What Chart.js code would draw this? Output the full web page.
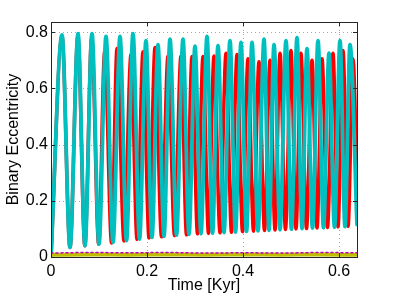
<!DOCTYPE html>
<html>
<head>
<meta charset="utf-8">
<script src="https://cdn.jsdelivr.net/npm/chart.js@4.4.1/dist/chart.umd.min.js"></script>
<style>
  html, body { margin: 0; padding: 0; background: #fff; }
  #wrap { width: 395px; height: 297px; }
</style>
</head>
<body>
<div id="wrap"><canvas id="graphe"></canvas></div>
<script>
// axes
var xTicks = [0, 0.2, 0.4, 0.6];
var yTicks = [0, 0.2, 0.4, 0.6, 0.8];
var xMax = 0.6375;
var yMax = 0.836;

// cyan binary (peaks and troughs)
var cyanPeakT = [0.0229,0.0563,0.0854,0.1146,0.1438,0.1708,0.1979,0.2229,0.2479,0.2750,0.3000,0.3250,0.3479,0.3729,0.3958,0.4188,0.4438,0.4646,0.4896,0.5125,0.5333,0.5563,0.5792,0.6021,0.6229];
var cyanPeakE = [0.790,0.795,0.795,0.785,0.785,0.795,0.770,0.755,0.775,0.775,0.750,0.785,0.752,0.770,0.763,0.763,0.775,0.755,0.770,0.780,0.741,0.770,0.725,0.770,0.755];
var cyanTroughT = [0.0396,0.0708,0.1000,0.1292,0.1573,0.1844,0.2104,0.2354,0.2615,0.2875,0.3125,0.3365,0.3604,0.3844,0.4073,0.4313,0.4542,0.4771,0.5010,0.5229,0.5448,0.5677,0.5906,0.6125];
var cyanTroughE = [0.034,0.040,0.046,0.052,0.058,0.064,0.070,0.074,0.078,0.081,0.083,0.085,0.087,0.089,0.091,0.093,0.095,0.097,0.099,0.101,0.103,0.104,0.106,0.108];
var cyanEnd = [0.6375, 0.115];

// red binary (first cycles hidden under the cyan one)
var redPeakT = [0.0229,0.0560,0.0848,0.1118,0.1375,0.1667,0.1917,0.2167,0.2438,0.2708,0.2938,0.3167,0.3396,0.3646,0.3875,0.4104,0.4333,0.4563,0.4771,0.5000,0.5208,0.5438,0.5646,0.5875,0.6083,0.6292];
var redPeakE = [0.785,0.785,0.780,0.730,0.742,0.720,0.730,0.745,0.715,0.715,0.713,0.713,0.715,0.725,0.720,0.705,0.695,0.700,0.725,0.735,0.725,0.700,0.705,0.725,0.735,0.705];
var redTroughT = [0.0396,0.0705,0.0993,0.1262,0.1521,0.1792,0.2042,0.2302,0.2573,0.2823,0.3052,0.3281,0.3521,0.3760,0.3990,0.4219,0.4448,0.4667,0.4885,0.5104,0.5323,0.5542,0.5760,0.5979,0.6188];
var redTroughE = [0.034,0.040,0.046,0.050,0.057,0.063,0.068,0.072,0.076,0.079,0.082,0.084,0.086,0.088,0.090,0.092,0.094,0.096,0.098,0.100,0.101,0.103,0.105,0.107,0.109];
var redEnd = [0.6375, 0.27];

// the small ones near zero
var bottomT = [0, 0.08, 0.16, 0.24, 0.32, 0.40, 0.48, 0.56, 0.6375];
var yellowE = [0.008, 0.009, 0.008, 0.009, 0.008, 0.009, 0.008, 0.009, 0.008];
var magentaE = [0.014, 0.016, 0.015, 0.016, 0.014, 0.015, 0.014, 0.016, 0.015];
var greenE = [0.011, 0.012, 0.011, 0.012, 0.011, 0.012, 0.011, 0.012, 0.011];

function construirePoints(peakT, peakE, troughT, troughE, fin){
    var pts = [{x: 0, y: 0}];
    for(let i = 0; i < peakT.length; i++){
        pts.push({x: peakT[i], y: peakE[i]});
        if (i < troughT.length){
            pts.push({x: troughT[i], y: troughE[i]});
        }
    }
    pts.push({x: fin[0], y: fin[1]});
    return pts;
}

function points(t, e){
    var pts = [];
    for(let i = 0; i < t.length; i++){
        pts.push({x: t[i], y: e[i]});
    }
    return pts;
}

// grid, box and inward ticks like matlab
var cadre = {
    id: 'cadre',
    beforeDatasetsDraw: function(chart){
        var ctx = chart.ctx, a = chart.chartArea;
        var sx = chart.scales.x, sy = chart.scales.y;
        ctx.save();
        ctx.strokeStyle = '#a8a8a8';
        ctx.lineWidth = 1;
        ctx.setLineDash([1, 3]);
        xTicks.forEach(function(v){
            if (v == 0) return;
            var px = Math.round(sx.getPixelForValue(v)) + 0.5;
            ctx.beginPath(); ctx.moveTo(px, a.top); ctx.lineTo(px, a.bottom); ctx.stroke();
        });
        yTicks.forEach(function(v){
            if (v == 0) return;
            var py = Math.round(sy.getPixelForValue(v)) + 0.5;
            ctx.beginPath(); ctx.moveTo(a.left, py); ctx.lineTo(a.right, py); ctx.stroke();
        });
        ctx.restore();
    },
    afterDatasetsDraw: function(chart){
        var ctx = chart.ctx, a = chart.chartArea;
        var sx = chart.scales.x, sy = chart.scales.y;
        ctx.save();
        ctx.strokeStyle = '#262626';
        ctx.lineWidth = 1;
        ctx.setLineDash([]);
        ctx.strokeRect(Math.round(a.left) + 0.5, Math.round(a.top) + 0.5, Math.round(a.right - a.left), Math.round(a.bottom - a.top));
        var tl = 4;
        xTicks.forEach(function(v){
            var px = Math.round(sx.getPixelForValue(v)) + 0.5;
            ctx.beginPath(); ctx.moveTo(px, a.bottom); ctx.lineTo(px, a.bottom - tl); ctx.stroke();
            ctx.beginPath(); ctx.moveTo(px, a.top); ctx.lineTo(px, a.top + tl); ctx.stroke();
        });
        yTicks.forEach(function(v){
            var py = Math.round(sy.getPixelForValue(v)) + 0.5;
            ctx.beginPath(); ctx.moveTo(a.left, py); ctx.lineTo(a.left + tl, py); ctx.stroke();
            ctx.beginPath(); ctx.moveTo(a.right, py); ctx.lineTo(a.right - tl, py); ctx.stroke();
        });
        ctx.restore();
    }
};

var police = "'Liberation Sans', Arial, Helvetica, sans-serif";

// datasets: the first one of the list ends on top
var data = {
    type: 'line',
    data: {
        datasets: [
            { label: 'magenta', data: points(bottomT, magentaE), borderColor: '#bf00bf', borderWidth: 1.5, borderDash: [2, 3] },
            { label: 'jaune', data: points(bottomT, yellowE), borderColor: '#bfbf00', borderWidth: 4 },
            { label: 'cyan', data: construirePoints(cyanPeakT, cyanPeakE, cyanTroughT, cyanTroughE, cyanEnd),
              borderColor: '#00bfbf', borderWidth: 3.8 },
            { label: 'rouge', data: construirePoints(redPeakT, redPeakE, redTroughT, redTroughE, redEnd),
              borderColor: '#ff0000', borderWidth: 3.5 },
            { label: 'vert', data: points(bottomT, greenE), borderColor: '#00a000', borderWidth: 1, borderDash: [1, 4] }
        ]
    },
    options: {
        responsive: true,
        maintainAspectRatio: false,
        animation: false,
        devicePixelRatio: 1,
        layout: { padding: { left: 0, top: 22, right: 38, bottom: 0 } },
        elements: {
            point: { radius: 0 },
            line: { cubicInterpolationMode: 'monotone', borderCapStyle: 'round', borderJoinStyle: 'round', fill: false }
        },
        plugins: { legend: { display: false }, tooltip: { enabled: false } },
        scales: {
            x: {
                type: 'linear', min: 0, max: xMax,
                afterBuildTicks: function(scale){ scale.ticks = xTicks.map(function(v){ return {value: v}; }); },
                afterFit: function(scale){ scale.height = 40; },
                grid: { display: false, drawTicks: false },
                border: { display: false },
                ticks: { color: '#000', padding: 5, maxRotation: 0, font: { family: police, size: 16 },
                         callback: function(v){ return String(v); } },
                title: { display: true, text: 'Time [Kyr]', color: '#000', padding: { top: 0, bottom: 2 },
                         font: { family: police, size: 16 } }
            },
            y: {
                type: 'linear', min: 0, max: yMax,
                afterBuildTicks: function(scale){ scale.ticks = yTicks.map(function(v){ return {value: v}; }); },
                afterFit: function(scale){ scale.width = 51; },
                grid: { display: false, drawTicks: false },
                border: { display: false },
                ticks: { color: '#000', padding: 3, font: { family: police, size: 16 },
                         callback: function(v){ return String(v); } },
                title: { display: true, text: 'Binary Eccentricity', color: '#000', padding: { top: 4, bottom: 0 },
                         font: { family: police, size: 16 } }
            }
        }
    },
    plugins: [cadre]
};

var chart = new Chart(document.getElementById('graphe'), data);
</script>
</body>
</html>
